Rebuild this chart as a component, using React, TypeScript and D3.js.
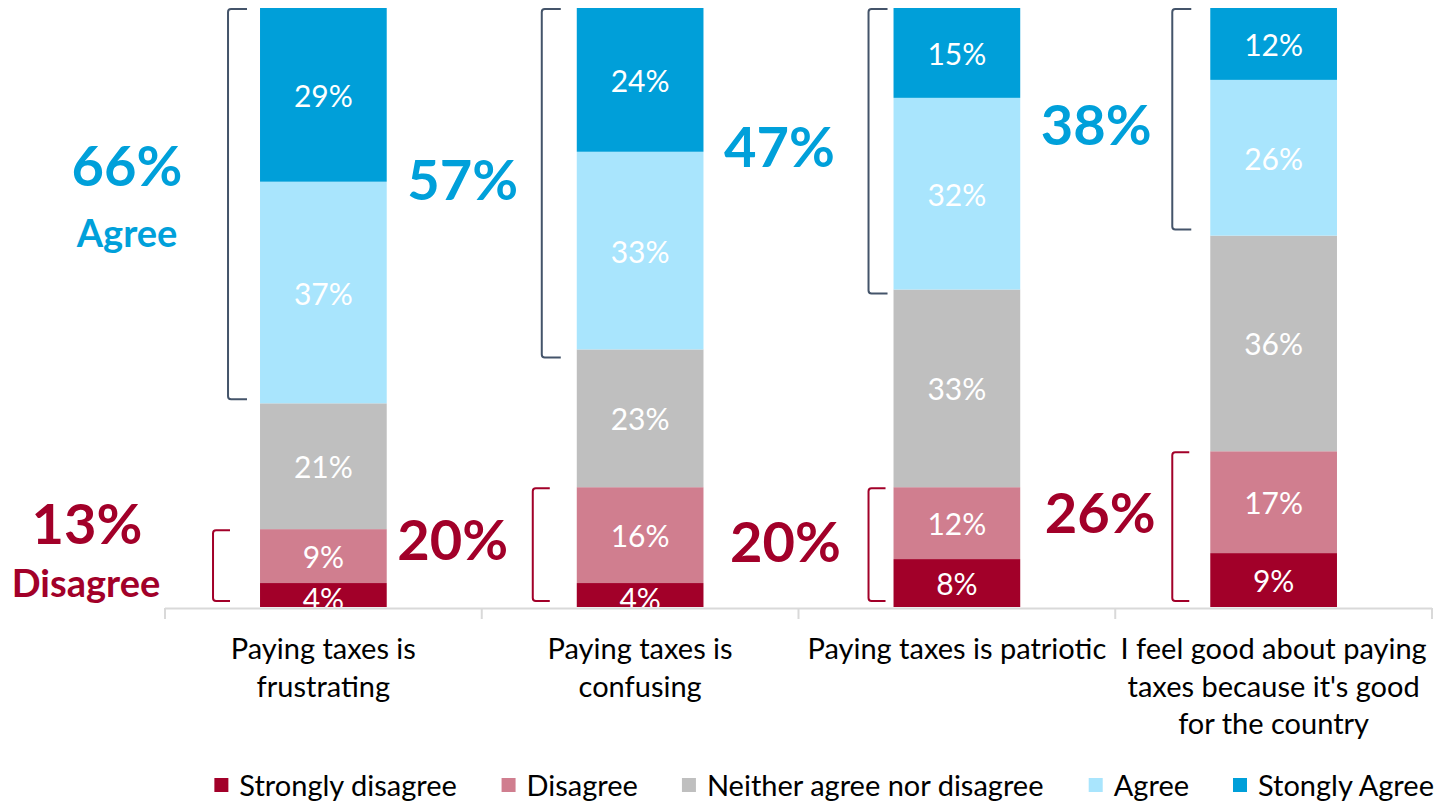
import React from 'react';
import * as d3 from 'd3';

// categories (one line per array entry)
const categoryLines: string[][] = [
  ['Paying taxes is', 'frustrating'],
  ['Paying taxes is', 'confusing'],
  ['Paying taxes is patriotic'],
  ['I feel good about paying', "taxes because it's good", 'for the country'],
];

const seriesNames = ['Strongly disagree', 'Disagree', 'Neither agree nor disagree', 'Agree', 'Stongly Agree'];

// values per category, bottom to top
const stronglyDisagree = [4, 4, 8, 9];
const disagree = [9, 16, 12, 17];
const neither = [21, 23, 33, 36];
const agree = [37, 33, 32, 26];
const stronglyAgree = [29, 24, 15, 12];

// summary callouts
const agreeTotals = ['66%', '57%', '47%', '38%'];
const disagreeTotals = ['13%', '20%', '20%', '26%'];

const colors = ['#A20029', '#D07E8F', '#BFBFBF', '#A9E5FD', '#009FD9'];
const BLUE = '#00A0DA';
const RED = '#A20029';
const FONT = 'Lato, "Open Sans", sans-serif';

// annotation placement relative to bars (bracket gap from bar, label dx from bracket, label dy from span middle, bracket end tweak)
const agreeNote = [
  { gap: 32, dx: -101, dy: -7, ext: 2 },
  { gap: 35, dx: -79, dy: 0, ext: 14 },
  { gap: 25, dx: -89, dy: -3, ext: 10 },
  { gap: 38, dx: -76, dy: 2, ext: 0 },
];
const disagreeNote = [
  { gap: 47, dx: -126, dy: -20 },
  { gap: 44, dx: -80, dy: -8 },
  { gap: 25, dx: -83, dy: -6 },
  { gap: 38, dx: -72, dy: -17 },
];

const W = 1444;
const H = 801;

const measure = (() => {
  const c = typeof document !== 'undefined' ? document.createElement('canvas').getContext('2d') : null;
  return (t: string, font: string) => {
    if (!c) return t.length * 12;
    c.font = font;
    return c.measureText(t).width;
  };
})();

export default function App() {
  const margin = { top: 8, left: 165, right: 12, bottom: 194 };
  const innerBottom = H - margin.bottom; // 607

  const idx = categoryLines.map((_, i) => i);
  const x = d3.scaleBand<number>().domain(idx).range([margin.left, W - margin.right]).paddingInner(0).paddingOuter(0);
  const y = d3.scaleLinear().domain([0, 100]).range([innerBottom, margin.top]);

  const rows = idx.map((i) => ({
    i,
    s0: stronglyDisagree[i],
    s1: disagree[i],
    s2: neither[i],
    s3: agree[i],
    s4: stronglyAgree[i],
  }));
  const keys = ['s0', 's1', 's2', 's3', 's4'];
  const stacked = d3.stack<any>().keys(keys)(rows);

  const barW = x.bandwidth() * 0.4;
  const barX = (i: number) => (x(i) as number) + (x.bandwidth() - barW) / 2;

  const bracket = (bx: number, y0: number, y1: number, arm: number) => {
    const p = d3.path();
    p.moveTo(bx + arm, y0);
    p.lineTo(bx + 3, y0);
    p.quadraticCurveTo(bx, y0, bx, y0 + 3);
    p.lineTo(bx, y1 - 3);
    p.quadraticCurveTo(bx, y1, bx + 3, y1);
    p.lineTo(bx + arm, y1);
    return p.toString();
  };

  // legend layout
  const legendFont = `29px ${FONT}`;
  const sw = 14;
  const items = seriesNames.map((n) => ({ n, w: 25 + measure(n, legendFont) }));
  const legendTotal = d3.sum(items, (d) => d.w) + 44 * (items.length - 1);
  let lx = 825 - legendTotal / 2;
  const legendPos = items.map((d) => {
    const p = lx;
    lx += d.w + 44;
    return p;
  });

  const ticks = [...idx.map((i) => x(i) as number), W - margin.right];

  return (
    <svg width={W} height={H} style={{ position: 'absolute', left: 0, top: 0, background: '#fff' }} fontFamily={FONT}>
      <defs>
        <clipPath id="plot">
          <rect x={0} y={0} width={W} height={innerBottom} />
        </clipPath>
      </defs>

      <g clipPath="url(#plot)">
        {stacked.map((layer, k) => (
          <g key={k} fill={colors[k]}>
            {layer.map((d, i) => (
              <rect key={i} x={barX(i)} y={y(d[1])} width={barW} height={y(d[0]) - y(d[1])} />
            ))}
          </g>
        ))}
        {stacked.map((layer, k) => (
          <g key={'t' + k}>
            {layer.map((d, i) => {
              const v = d[1] - d[0];
              const cy = (y(d[0]) + y(d[1])) / 2;
              return (
                <text
                  key={i}
                  x={barX(i) + barW / 2}
                  y={k === 0 && v < 6 ? cy + 3 : cy}
                  textAnchor="middle"
                  dominantBaseline="central"
                  fill="#fff"
                  fontSize={30}
                >
                  {v}%
                </text>
              );
            })}
          </g>
        ))}
      </g>

      {/* axis */}
      <line x1={margin.left} x2={W - margin.right} y1={innerBottom + 1.5} y2={innerBottom + 1.5} stroke="#D9D9D9" strokeWidth={2} />
      {ticks.map((t, i) => (
        <line key={i} x1={t} x2={t} y1={innerBottom + 1} y2={innerBottom + 12} stroke="#D9D9D9" strokeWidth={2} />
      ))}

      {/* category labels */}
      {categoryLines.map((lines, i) => (
        <text key={i} textAnchor="middle" fontSize={29} fill="#000">
          {lines.map((l, j) => (
            <tspan key={j} x={(x(i) as number) + x.bandwidth() / 2} y={659 + j * 37.5}>
              {l}
            </tspan>
          ))}
        </text>
      ))}

      {/* brackets & callouts */}
      {rows.map((r, i) => {
        const aTop = y(100);
        const aBot = y(100 - stronglyAgree[i] - agree[i]);
        const dTop = y(stronglyDisagree[i] + disagree[i]);
        const dBot = y(0);
        const ab = barX(i) - agreeNote[i].gap;
        const db = barX(i) - disagreeNote[i].gap;
        const aMid = (aTop + aBot) / 2 + agreeNote[i].dy;
        const dMid = (dTop + dBot) / 2 + disagreeNote[i].dy;
        return (
          <g key={i}>
            <path d={bracket(ab, aTop + 1, aBot - 6 + agreeNote[i].ext, 19)} fill="none" stroke="#44546A" strokeWidth={2} />
            <path d={bracket(db, dTop + 1, dBot - 6, 17)} fill="none" stroke={RED} strokeWidth={2} />
            {i === 0 ? (
              <text textAnchor="middle" fontWeight="bold" fill={BLUE}>
                <tspan x={ab + agreeNote[i].dx} y={aMid - 13} fontSize={56}>{agreeTotals[i]}</tspan>
                <tspan x={ab + agreeNote[i].dx} y={aMid + 48} fontSize={38}>Agree</tspan>
              </text>
            ) : (
              <text x={ab + agreeNote[i].dx} y={aMid + 21} textAnchor="middle" fontWeight="bold" fill={BLUE} fontSize={56}>
                {agreeTotals[i]}
              </text>
            )}
            {i === 0 ? (
              <text textAnchor="middle" fontWeight="bold" fill={RED}>
                <tspan x={db + disagreeNote[i].dx} y={dMid - 4} fontSize={56}>{disagreeTotals[i]}</tspan>
                <tspan x={db + disagreeNote[i].dx - 1} y={dMid + 49} fontSize={38}>Disagree</tspan>
              </text>
            ) : (
              <text x={db + disagreeNote[i].dx} y={dMid + 21} textAnchor="middle" fontWeight="bold" fill={RED} fontSize={56}>
                {disagreeTotals[i]}
              </text>
            )}
          </g>
        );
      })}

      {/* legend */}
      {items.map((d, k) => (
        <g key={k} transform={`translate(${legendPos[k]},0)`}>
          <rect x={0} y={778} width={sw} height={sw} fill={colors[k]} />
          <text x={25} y={796} fontSize={29} fill="#000">
            {d.n}
          </text>
        </g>
      ))}
    </svg>
  );
}
